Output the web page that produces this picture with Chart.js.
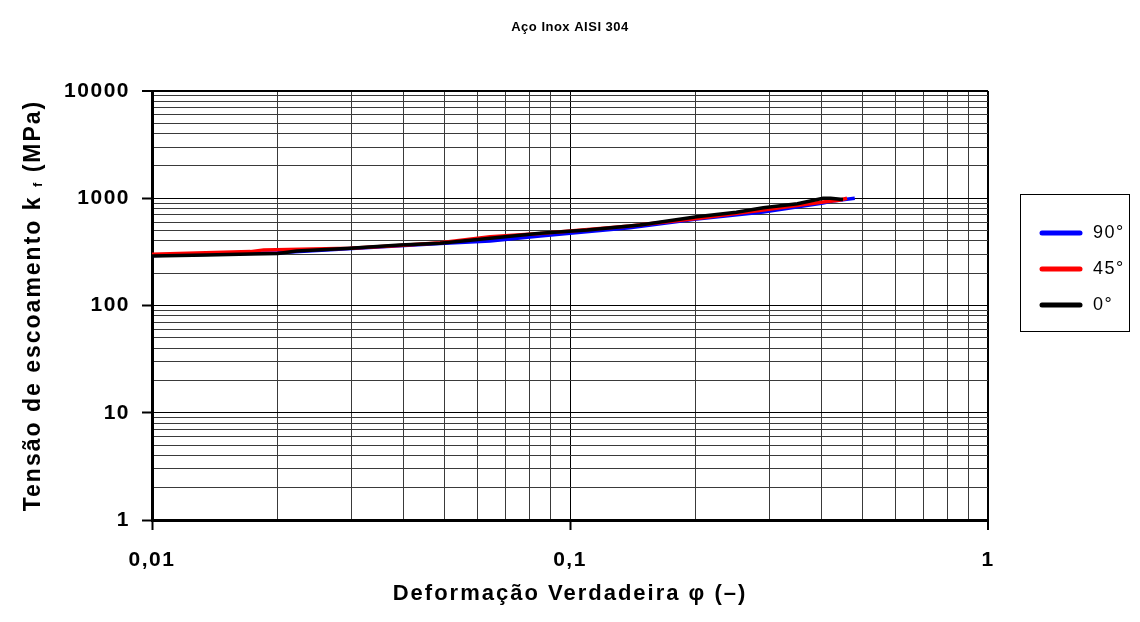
<!DOCTYPE html>
<html>
<head>
<meta charset="utf-8">
<script src="https://cdn.jsdelivr.net/npm/chart.js@4.4.1/dist/chart.umd.min.js"></script>
<style>
  html, body { margin: 0; padding: 0; background: #fff; }
  #wrap { width: 1140px; height: 622px; }
</style>
</head>
<body>
<div id="wrap"><canvas id="chart" width="1140" height="622"></canvas></div>
<script>
// flow curves, true strain phi (-) vs flow stress kf (MPa)
var strain90 = [0.01, 0.02, 0.0392, 0.0489, 0.0644, 0.0848, 0.139, 0.201, 0.29, 0.403, 0.43, 0.48]
var stress90 = [292, 310, 360, 378, 399, 445, 531, 640, 744, 903, 950, 1000]

var strain45 = [0.01, 0.0172, 0.0185, 0.0298, 0.0392, 0.0489, 0.0644, 0.0848, 0.139, 0.201, 0.29, 0.403, 0.44, 0.46]
var stress45 = [300, 318, 330, 342, 363, 385, 438, 468, 551, 648, 777, 923, 960, 1000]

var strain0 = [0.01, 0.0135, 0.0172, 0.02, 0.0222, 0.0298, 0.0392, 0.0489, 0.0644, 0.0848, 0.11, 0.147, 0.201, 0.25, 0.29, 0.35, 0.403, 0.42, 0.45]
var stress0 = [289, 295, 302, 306, 322, 341, 366, 380, 423, 471, 505, 563, 673, 740, 816, 890, 1000, 1000, 974]

var seriesLabels = ['90°', '45°', '0°']
var seriesColors = ['#0000ff', '#ff0000', '#000000']

var xMajor = [0.01, 0.1, 1]
var xMajorText = ['0,01', '0,1', '1']
var yMajor = [1, 10, 100, 1000, 10000]
var yMajorText = ['1', '10', '100', '1000', '10000']

var chartTitle = 'Aço Inox AISI 304'
var xTitle = 'Deformação Verdadeira φ (–)'

var FONT = '"Liberation Sans", Arial, sans-serif'

function points (xs, ys) {
  return xs.map(function (x, i) { return { x: x, y: ys[i] } })
}

// 1..9 x 10^k for every decade between the two exponents
function logTicks (fromExp, toExp) {
  var ticks = []
  for (var k = fromExp; k < toExp; k++) {
    for (var m = 1; m <= 9; m++) {
      ticks.push({ value: Number((m * Math.pow(10, k)).toPrecision(6)) })
    }
  }
  ticks.push({ value: Math.pow(10, toExp) })
  return ticks
}

function majorIndex (v, majors) {
  for (var i = 0; i < majors.length; i++) {
    if (Math.abs(v - majors[i]) / majors[i] < 1e-6) return i
  }
  return -1
}

function scaleOpts (majors, texts, lo, hi, pad, fit) {
  return {
    type: 'logarithmic',
    min: Math.pow(10, lo),
    max: Math.pow(10, hi),
    afterFit: fit,
    afterBuildTicks: function (s) { s.ticks = logTicks(lo, hi) },
    ticks: {
      autoSkip: false,
      maxRotation: 0,
      padding: pad,
      color: '#000',
      font: { family: FONT, size: 21, weight: 'bold' },
      callback: function (v) {
        var i = majorIndex(v, majors)
        return i === -1 ? '' : texts[i]
      }
    },
    grid: {
      color: function (c) {
        return c.tick && majorIndex(c.tick.value, majors) !== -1 ? '#000' : '#3a3a3a'
      },
      lineWidth: function (c) {
        return c.tick && Math.abs(c.tick.value - Math.pow(10, hi)) < 1e-9 ? 2 : 1
      },
      tickLength: 10,
      tickWidth: 2,
      tickColor: function (c) {
        return c.tick && majorIndex(c.tick.value, majors) !== -1 ? '#000' : 'rgba(0,0,0,0)'
      }
    },
    border: { color: '#000', width: 3 }
  }
}

// titles, y title with subscript and the boxed legend
var decorations = {
  id: 'decorations',
  beforeDraw: function (chart) {
    chart.ctx.letterSpacing = '1.5px'
  },
  afterDraw: function (chart) {
    var ctx = chart.ctx
    var area = chart.chartArea
    var cx = (area.left + area.right) / 2
    ctx.save()
    ctx.fillStyle = '#000'
    ctx.textBaseline = 'middle'
    ctx.textAlign = 'center'

    ctx.letterSpacing = '0.5px'
    ctx.font = 'bold 13px ' + FONT
    ctx.fillText(chartTitle, cx, 27)

    ctx.letterSpacing = '2px'
    ctx.font = 'bold 22px ' + FONT
    ctx.fillText(xTitle, cx, 594)

    // y title: "Tensão de escoamento k f (MPa)" with small f
    var big = 'bold 23px ' + FONT
    var small = 'bold 13px ' + FONT
    var parts = [['Tensão de escoamento k ', big, 0], ['f', small, 2], [' (MPa)', big, 0]]
    ctx.save()
    ctx.translate(32, (area.top + area.bottom) / 2)
    ctx.rotate(-Math.PI / 2)
    ctx.textAlign = 'left'
    ctx.textBaseline = 'alphabetic'
    var total = 0
    parts.forEach(function (p) { ctx.font = p[1]; total += ctx.measureText(p[0]).width })
    var x = -total / 2
    parts.forEach(function (p) {
      ctx.font = p[1]
      ctx.fillText(p[0], x, 8 + p[2])
      x += ctx.measureText(p[0]).width
    })
    ctx.restore()

    // legend
    ctx.letterSpacing = '1.5px'
    ctx.lineWidth = 1
    ctx.strokeStyle = '#000'
    ctx.strokeRect(1020.5, 194.5, 109, 137)
    ctx.textAlign = 'left'
    ctx.font = '18px ' + FONT
    chart.data.datasets.forEach(function (ds, i) {
      var y = 233 + i * 36
      ctx.beginPath()
      ctx.lineCap = 'round'
      ctx.lineWidth = 5
      ctx.strokeStyle = ds.borderColor
      ctx.moveTo(1042, y)
      ctx.lineTo(1080, y)
      ctx.stroke()
      ctx.fillStyle = '#000'
      ctx.fillText(ds.label, 1093, y)
    })
    ctx.restore()
  }
}

var allStrain = [strain90, strain45, strain0]
var allStress = [stress90, stress45, stress0]

new Chart(document.getElementById('chart'), {
  type: 'line',
  data: {
    datasets: seriesLabels.map(function (label, i) {
      return {
        label: label,
        data: points(allStrain[i], allStress[i]),
        borderColor: seriesColors[i],
        backgroundColor: seriesColors[i],
        borderWidth: 3.5,
        pointRadius: 0,
        tension: 0,
        fill: false,
        order: 2 - i
      }
    })
  },
  options: {
    responsive: false,
    animation: false,
    layout: { padding: { top: 91, right: 152, left: 0, bottom: 0 } },
    plugins: {
      legend: { display: false },
      tooltip: { enabled: false },
      title: { display: false }
    },
    scales: {
      x: scaleOpts(xMajor, xMajorText, -2, 0, 18, function (s) { s.height = 102 }),
      y: scaleOpts(yMajor, yMajorText, 0, 4, 12, function (s) { s.width = 152 })
    }
  },
  plugins: [decorations]
})
</script>
</body>
</html>
